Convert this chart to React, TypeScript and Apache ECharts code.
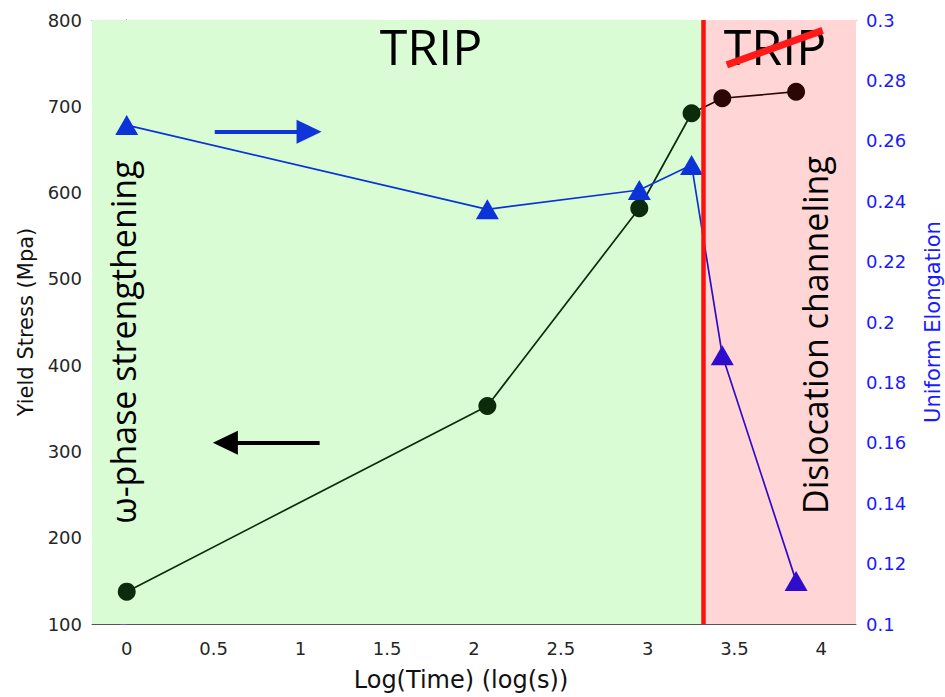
import React, { useEffect, useRef } from "react";
import * as echarts from "echarts";

// ---- data ----
const timeLog = [0, 2.077, 2.952, 3.253, 3.43, 3.855];
const yieldStress = [137.5, 352.7, 581.8, 691.9, 709.3, 716.9];
const uniformElongation = [0.2652, 0.2373, 0.2437, 0.252, 0.189, 0.1142];
const xTicks = [0, 0.5, 1, 1.5, 2, 2.5, 3, 3.5, 4];
const regimeBoundary = 3.32;
const xMin = -0.2;
const xMax = 4.2;
const yMin = 100;
const yMax = 800;
const blueArrow = { from: [0.507, 0.263], to: [1.05, 0.263] };
const blackArrow = { from: [1.111, 310], to: [0.568, 310] };
const strike = { from: [3.456, 748], to: [4.008, 788] };

const FONT = "'DejaVu Sans', Verdana, sans-serif";
const CAL = "'Open Sans', 'Noto Sans', sans-serif";

const STRESS_A = "#0b2b0b";
const STRESS_B = "#2b0606";
const ELONG_A = "#0c33d8";
const ELONG_B = "#2e0ccc";

function splitGradient(a: string, b: string) {
  const lo = Math.min(...timeLog);
  const hi = Math.max(...timeLog);
  const f = (regimeBoundary - lo) / (hi - lo);
  return new echarts.graphic.LinearGradient(0, 0, 1, 0, [
    { offset: 0, color: a },
    { offset: f, color: a },
    { offset: f, color: b },
    { offset: 1, color: b },
  ]);
}

export default function App() {
  const ref = useRef<HTMLDivElement>(null);
  useEffect(() => {
    if (!ref.current) return;
    const chart = echarts.init(ref.current, null, { renderer: "svg" });
    const stressPts = timeLog.map((t, i) => [t, yieldStress[i]]);
    const stressItems = timeLog.map((t, i) => ({
      value: [t, yieldStress[i]],
      itemStyle: { color: t < regimeBoundary ? STRESS_A : STRESS_B },
    }));
    const elongItems = timeLog.map((t, i) => ({
      value: [t, uniformElongation[i]],
      itemStyle: { color: t < regimeBoundary ? ELONG_A : ELONG_B },
    }));
    chart.setOption({
      animation: false,
      grid: { left: 92, right: 89, top: 20, bottom: 73, containLabel: false, outerBoundsMode: "none" },
      xAxis: [
        {
          type: "value",
          min: xMin,
          max: xMax,
          position: "bottom",
          name: "Log(Time) (log(s))",
          nameLocation: "middle",
          nameGap: 44,
          nameTextStyle: { fontFamily: FONT, fontSize: 24, color: "#111", padding: [0, 26, 0, 0] },
          axisLine: { show: true, lineStyle: { color: "#555", width: 1 } },
          axisTick: { show: true, inside: true, length: 6, customValues: xTicks, lineStyle: { color: "#555" } },
          axisLabel: {
            customValues: xTicks,
            margin: 15,
            fontFamily: FONT,
            fontSize: 18,
            color: "#262626",
            formatter: (v: number) => String(v),
          },
          splitLine: { show: false },
        },
        {
          type: "value",
          min: xMin,
          max: xMax,
          position: "top",
          axisLine: { show: true, lineStyle: { color: "#666", width: 1 } },
          axisTick: { show: true, inside: true, length: 6, customValues: xTicks, lineStyle: { color: "#666" } },
          axisLabel: { show: false },
          splitLine: { show: false },
        },
      ],
      yAxis: [
        {
          type: "value",
          min: yMin,
          max: yMax,
          interval: 100,
          position: "left",
          name: "Yield Stress (Mpa)",
          nameLocation: "middle",
          nameGap: 55,
          nameTextStyle: { fontFamily: FONT, fontSize: 21, color: "#111" },
          axisLine: { show: true, lineStyle: { color: "#555", width: 1 } },
          axisTick: { show: true, inside: true, length: 6, lineStyle: { color: "#555" } },
          axisLabel: { margin: 10, fontFamily: FONT, fontSize: 18, color: "#262626" },
          splitLine: { show: false },
        },
        {
          type: "value",
          min: 0.1,
          max: 0.3,
          interval: 0.02,
          position: "right",
          name: "Uniform Elongation",
          nameLocation: "middle",
          nameGap: 66,
          nameTextStyle: { fontFamily: FONT, fontSize: 21, color: "#1a1aff" },
          axisLine: { show: true, lineStyle: { color: "#6a6aff", width: 1 } },
          axisTick: { show: true, inside: true, length: 6, lineStyle: { color: "#7050e0" } },
          axisLabel: {
            margin: 10,
            fontFamily: FONT,
            fontSize: 18,
            color: "#1a1aff",
            formatter: (v: number) => String(parseFloat(v.toFixed(2))),
          },
          splitLine: { show: false },
        },
      ],
      series: [
        {
          type: "line",
          xAxisIndex: 0,
          yAxisIndex: 0,
          data: stressPts,
          showSymbol: false,
          symbol: "none",
          lineStyle: { opacity: 0 },
          silent: true,
          z: 0,
          markArea: {
            silent: true,
            data: [
              [
                { coord: [xMin, yMin], itemStyle: { color: "#d9fcd5" } },
                { coord: [regimeBoundary, yMax] },
              ],
              [
                { coord: [regimeBoundary, yMin], itemStyle: { color: "#ffd5d5" } },
                { coord: [xMax, yMax] },
              ],
            ],
          },
        },
        {
          type: "line",
          xAxisIndex: 0,
          yAxisIndex: 0,
          data: stressPts,
          showSymbol: false,
          symbol: "none",
          lineStyle: { opacity: 0 },
          silent: true,
          z: 1,
          markLine: {
            silent: true,
            symbol: ["none", "none"],
            label: { show: false },
            data: [
              [
                { coord: [regimeBoundary, yMin], lineStyle: { color: "#ff1010", width: 4.5, type: "solid" } },
                { coord: [regimeBoundary, yMax] },
              ],
              [
                { coord: strike.from, lineStyle: { color: "#ff1a1a", width: 7, type: "solid" } },
                { coord: strike.to },
              ],
            ],
          },
        },
        {
          name: "Yield Stress",
          type: "line",
          xAxisIndex: 0,
          yAxisIndex: 0,
          data: stressItems,
          symbol: "circle",
          symbolSize: 18,
          lineStyle: { width: 1.7, color: splitGradient(STRESS_A, STRESS_B) },
          itemStyle: { color: STRESS_A },
          z: 3,
          markLine: {
            silent: true,
            label: { show: false },
            symbol: ["none", "triangle"],
            symbolSize: [24, 25],
            lineStyle: { color: "#000", width: 4, type: "solid" },
            itemStyle: { color: "#000" },
            data: [[{ coord: blackArrow.from }, { coord: blackArrow.to }]],
          },
        },
        {
          name: "Uniform Elongation",
          type: "line",
          xAxisIndex: 0,
          yAxisIndex: 1,
          data: elongItems,
          symbol: "triangle",
          symbolSize: [23, 20],
          lineStyle: { width: 1.7, color: splitGradient(ELONG_A, ELONG_B) },
          itemStyle: { color: ELONG_A },
          z: 3,
          markLine: {
            silent: true,
            label: { show: false },
            symbol: ["none", "triangle"],
            symbolSize: [24, 25],
            lineStyle: { color: "#1034d8", width: 4, type: "solid" },
            itemStyle: { color: "#1034d8" },
            data: [[{ coord: blueArrow.from }, { coord: blueArrow.to }]],
          },
        },
      ],
      graphic: [
        {
          type: "text",
          x: 431,
          y: 46,
          z: 10,
          style: { text: "TRIP", fontFamily: CAL, fontSize: 50, fill: "#000", align: "center", verticalAlign: "middle" },
        },
        {
          type: "text",
          x: 775,
          y: 46,
          z: 5,
          style: { text: "TRIP", fontFamily: CAL, fontSize: 50, fill: "#000", align: "center", verticalAlign: "middle" },
        },
        {
          type: "text",
          x: 123,
          y: 342,
          rotation: Math.PI / 2,
          z: 10,
          style: {
            text: "ω-phase strengthening",
            fontFamily: CAL,
            fontSize: 34,
            fill: "#000",
            align: "center",
            verticalAlign: "middle",
          },
        },
        {
          type: "text",
          x: 815,
          y: 335,
          rotation: Math.PI / 2,
          z: 10,
          style: {
            text: "Dislocation channeling",
            fontFamily: CAL,
            fontSize: 34,
            fill: "#000",
            align: "center",
            verticalAlign: "middle",
          },
        },
      ],
    });
    return () => chart.dispose();
  }, []);
  return (
    <div
      ref={ref}
      style={{ position: "absolute", left: 0, top: 0, width: 945, height: 697, background: "#fff" }}
    />
  );
}
